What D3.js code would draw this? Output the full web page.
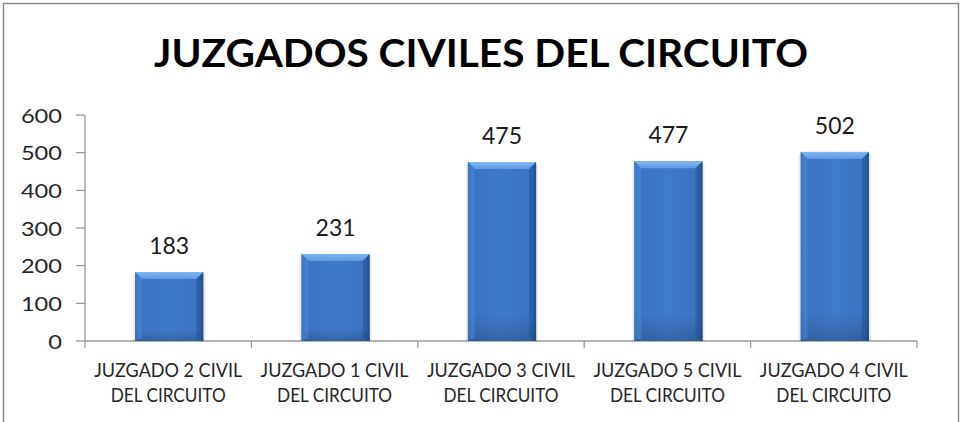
<!DOCTYPE html>
<html><head><meta charset="utf-8">
<script src="https://cdn.jsdelivr.net/npm/d3@7"></script>
<style>
html,body{margin:0;padding:0;background:#fff;}
text{font-family:"Lato","Open Sans",sans-serif;}
</style></head>
<body>
<svg id="c" width="963" height="422"></svg>
<script>
const title = "JUZGADOS CIVILES DEL CIRCUITO";
const categories = ["JUZGADO 2 CIVIL|DEL CIRCUITO","JUZGADO 1 CIVIL|DEL CIRCUITO","JUZGADO 3 CIVIL|DEL CIRCUITO","JUZGADO 5 CIVIL|DEL CIRCUITO","JUZGADO 4 CIVIL|DEL CIRCUITO"];
const values = [183, 231, 475, 477, 502];
const yTicks = [0, 100, 200, 300, 400, 500, 600];

const svg = d3.select("#c");
const m = {left: 85, right: 917, top: 115, bottom: 341};

// border
svg.append("rect").attr("x",3.5).attr("y",3.5).attr("width",955).attr("height",430)
  .attr("fill","#fff").attr("stroke","#8c8c8c").attr("stroke-width",1.5);

const defs = svg.append("defs");
const g1 = defs.append("linearGradient").attr("id","body").attr("x1",0).attr("x2",1).attr("y1",0).attr("y2",0);
[[0,"#2b5c9f"],[0.06,"#3a74c2"],[0.5,"#3f7bcb"],[0.94,"#3a74c2"],[1,"#24528f"]].forEach(s=>g1.append("stop").attr("offset",s[0]).attr("stop-color",s[1]));
const g2 = defs.append("linearGradient").attr("id","top").attr("x1",0).attr("x2",0).attr("y1",0).attr("y2",1);
[[0,"#80b8f0"],[1,"#5b98e0"]].forEach(s=>g2.append("stop").attr("offset",s[0]).attr("stop-color",s[1]));
const g3 = defs.append("linearGradient").attr("id","vshade").attr("x1",0).attr("x2",0).attr("y1",0).attr("y2",1);
[[0,"#ffffff",0.0],[0.85,"#000000",0.0],[1,"#000000",0.18]].forEach(s=>g3.append("stop").attr("offset",s[0]).attr("stop-color",s[1]).attr("stop-opacity",s[2]));

const x = d3.scaleBand().domain(categories).range([m.left, m.right]).paddingInner(0.59).paddingOuter(0.295);
const xb = d3.scaleBand().domain(categories).range([m.left, m.right]);
const y = d3.scaleLinear().domain([0, 600]).range([m.bottom, m.top]);

// title
svg.append("text").attr("x",481).attr("y",67).attr("text-anchor","middle")
  .attr("font-size",39).attr("font-weight",700).attr("fill","#000")
  .attr("textLength",654).attr("lengthAdjust","spacingAndGlyphs").text(title);

// y axis
const ya = svg.append("g");
ya.append("line").attr("x1",m.left).attr("x2",m.left).attr("y1",m.top).attr("y2",m.bottom).attr("stroke","#9a9a9a").attr("stroke-width",1.3);
yTicks.forEach(t=>{
  ya.append("line").attr("x1",76).attr("x2",m.left).attr("y1",y(t)).attr("y2",y(t)).attr("stroke","#9a9a9a").attr("stroke-width",1.3);
  const s = String(t);
  ya.append("text").attr("x",62).attr("y",y(t)+7.5).attr("text-anchor","end")
    .attr("font-size",20).attr("fill","#262626")
    .attr("textLength", s.length*13.7).attr("lengthAdjust","spacingAndGlyphs").text(s);
});

// x axis
const xa = svg.append("g");
xa.append("line").attr("x1",m.left).attr("x2",m.right).attr("y1",m.bottom).attr("y2",m.bottom).attr("stroke","#9a9a9a").attr("stroke-width",1.3);
const bounds = [m.left].concat(categories.map(c=>xb(c)+xb.bandwidth()));
bounds.forEach(b=>xa.append("line").attr("x1",b).attr("x2",b).attr("y1",m.bottom).attr("y2",m.bottom+7).attr("stroke","#9a9a9a").attr("stroke-width",1.3));
categories.forEach(c=>{
  const cx = xb(c)+xb.bandwidth()/2;
  const lines = c.split("|");
  xa.append("text").attr("x",cx).attr("y",376.5).attr("text-anchor","middle").attr("font-size",20).attr("fill","#262626")
    .attr("textLength",148).attr("lengthAdjust","spacingAndGlyphs").text(lines[0]);
  xa.append("text").attr("x",cx).attr("y",401.5).attr("text-anchor","middle").attr("font-size",20).attr("fill","#262626")
    .attr("textLength",115).attr("lengthAdjust","spacingAndGlyphs").text(lines[1]);
});

// bars
const bev = 7;
const bars = svg.append("g");
categories.forEach((c,i)=>{
  const v = values[i];
  const bx = x(c)+1, bw = x.bandwidth(), by = y(v), bh = y(0)-y(v);
  const g = bars.append("g");
  g.append("rect").attr("x",bx-2).attr("y",by+2).attr("width",bw+4).attr("height",bh-2).attr("fill","#000").attr("opacity",0.08);
  g.append("rect").attr("x",bx).attr("y",by).attr("width",bw).attr("height",bh).attr("fill","url(#body)");
  g.append("rect").attr("x",bx).attr("y",by).attr("width",bw).attr("height",bh).attr("fill","url(#vshade)");
  g.append("path").attr("d",`M${bx},${by}L${bx+bw},${by}L${bx+bw-bev},${by+bev}L${bx+bev},${by+bev}Z`).attr("fill","url(#top)");
  g.append("path").attr("d",`M${bx},${by}L${bx+bev},${by+bev}L${bx+bev},${by+bh-3}L${bx},${by+bh}Z`).attr("fill","#4a88d6").attr("opacity",0.55);
  g.append("path").attr("d",`M${bx+bw},${by}L${bx+bw-bev},${by+bev}L${bx+bw-bev},${by+bh-3}L${bx+bw},${by+bh}Z`).attr("fill","#1f4c88").attr("opacity",0.45);
  bars.append("text").attr("x",bx+bw/2).attr("y",by-18).attr("text-anchor","middle").attr("font-size",22.5).attr("fill","#1a1a1a")
    .attr("textLength",40).attr("lengthAdjust","spacingAndGlyphs").text(String(v));
});
</script>
</body></html>
